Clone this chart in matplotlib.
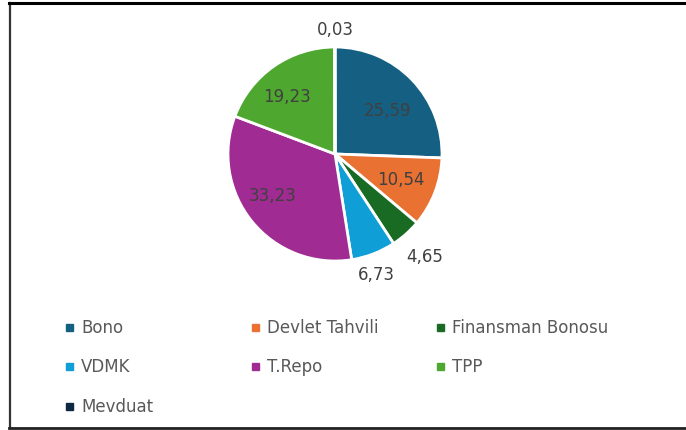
import numpy as np
import matplotlib.pyplot as plt
from matplotlib.lines import Line2D
from matplotlib.patches import Rectangle

# VERİ

labels = ["Bono", "Devlet Tahvili", "Finansman Bonosu", "VDMK", "T.Repo", "TPP", "Mevduat"]
values = [25.59, 10.54, 4.65, 6.73, 33.23, 19.23, 0.03]
value_text = ["25,59", "10,54", "4,65", "6,73", "33,23", "19,23", "0,03"]
colors = ["#156082", "#E97132", "#196B24", "#0F9ED5", "#A02B93", "#4EA72E", "#0E2841"]

# etiket yerleşimi (yarıçap oranı, açı kayması)
label_r = [0.64, 0.66, 1.27, 1.19, 0.70, 0.70, 1.17]
label_da = [-4, 0, 0, -2, -6, 5, 0]

W, H = 686, 431
fig = plt.figure(figsize=(W/100, H/100), dpi=100)

cx, cy, r = 335, 155, 107
ax = fig.add_axes([(cx - r)/W, (H - cy - r)/H, 2*r/W, 2*r/H])

wedges, _ = ax.pie(values, colors=colors, startangle=90, counterclock=False,
                   radius=1.0, wedgeprops=dict(edgecolor="white", linewidth=2))
ax.set_xlim(-1, 1)
ax.set_ylim(-1, 1)
ax.set_aspect("equal")
ax.axis("off")

for w, txt, rr, da in zip(wedges, value_text, label_r, label_da):
    ang = np.deg2rad((w.theta1 + w.theta2)/2 + da)
    ax.text(rr*np.cos(ang), rr*np.sin(ang), txt, ha="center", va="center",
            fontsize=12, color="#404040", family="DejaVu Sans")

# LEGENDA

col_x = [66, 252, 437]
row_y = [328, 367, 407]
for i, (name, c) in enumerate(zip(labels, colors)):
    x = col_x[i % 3]
    y = row_y[i // 3]
    fig.patches.append(Rectangle((x/W, (H - y - 3.5)/H), 7/W, 7/H,
                                 transform=fig.transFigure, color=c))
    fig.text((x + 15)/W, (H - y)/H, name, ha="left", va="center",
             fontsize=12, color="#595959", family="DejaVu Sans")

# ÇERÇEVE

fig.add_artist(Line2D([10/W, 10/W], [(H - 429)/H, (H - 4)/H],
                      transform=fig.transFigure, color="#333333", lw=1.6))
fig.add_artist(Line2D([9/W, 1], [(H - 4)/H, (H - 4)/H],
                      transform=fig.transFigure, color="black", lw=2.2))
fig.add_artist(Line2D([9/W, 1], [(H - 428.5)/H, (H - 428.5)/H],
                      transform=fig.transFigure, color="#222222", lw=2.0))

fig.savefig("out.png", dpi=100)
